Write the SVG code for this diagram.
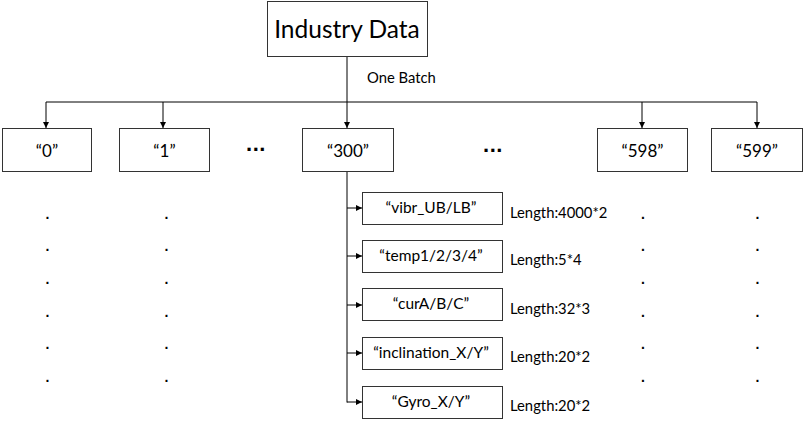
<svg xmlns="http://www.w3.org/2000/svg" width="804" height="426" viewBox="0 0 804 426">
<defs>
<marker id="ah" viewBox="0 0 6 6" refX="6" refY="3" markerWidth="6" markerHeight="6" markerUnits="userSpaceOnUse" orient="auto">
<path d="M0,0 L6,3 L0,6 z" fill="#000"/>
</marker>
<style>
.box{fill:#fff;stroke:#333;stroke-width:1}
.ln{fill:none;stroke:#000;stroke-width:1}
.t{font-family:Lato,"Liberation Sans",sans-serif;fill:#000;text-anchor:middle}
.big{font-size:24.5px}
.mid{font-size:17px}
.sm{font-size:15.5px}
.len{font-family:Lato,"Liberation Sans",sans-serif;font-size:14.8px;fill:#000}
.dot{font-family:"Liberation Sans",sans-serif;font-size:14px;font-weight:bold;fill:#000;text-anchor:middle}
.ell{font-family:"Liberation Sans",sans-serif;font-size:22px;font-weight:bold;fill:#000;text-anchor:middle;letter-spacing:0.5px}
</style>
</defs>
<g id="connectors">
<line class="ln" x1="347" y1="57" x2="347" y2="102" stroke-width="2"/>
<line class="ln" x1="347" y1="102" x2="347" y2="128" marker-end="url(#ah)"/>
<line class="ln" x1="46" y1="102" x2="757" y2="102"/>
<line class="ln" x1="46" y1="102" x2="46" y2="128" marker-end="url(#ah)"/>
<line class="ln" x1="163" y1="102" x2="163" y2="128" marker-end="url(#ah)"/>
<line class="ln" x1="642" y1="102" x2="642" y2="128" marker-end="url(#ah)"/>
<line class="ln" x1="757" y1="102" x2="757" y2="128" marker-end="url(#ah)"/>
<line class="ln" x1="347" y1="172" x2="347" y2="402.5" stroke-width="2"/>
<line class="ln" x1="347" y1="208" x2="362" y2="208" marker-end="url(#ah)"/>
<line class="ln" x1="347" y1="256" x2="362" y2="256" marker-end="url(#ah)"/>
<line class="ln" x1="347" y1="305" x2="362" y2="305" marker-end="url(#ah)"/>
<line class="ln" x1="347" y1="353" x2="362" y2="353" marker-end="url(#ah)"/>
<line class="ln" x1="347" y1="402" x2="362" y2="402" marker-end="url(#ah)"/>
<text class="len" x="367" y="83" font-size="12">One Batch</text>
</g>
<g id="n-root">
<rect class="box" x="267.5" y="1.5" width="160" height="55"/>
<text class="t big" x="347" y="38">Industry Data</text>
</g>
<g id="n-0">
<rect class="box" x="2.5" y="128.5" width="89" height="43"/>
<text class="t mid" x="47" y="157">“0”</text>
</g>
<g id="n-1">
<rect class="box" x="119.5" y="128.5" width="90" height="43"/>
<text class="t mid" x="164.5" y="157">“1”</text>
</g>
<g id="n-300">
<rect class="box" x="302.5" y="128.5" width="91" height="43"/>
<text class="t mid" x="348" y="157">“300”</text>
</g>
<g id="n-598">
<rect class="box" x="597.5" y="128.5" width="90" height="43"/>
<text class="t mid" x="642.5" y="157">“598”</text>
</g>
<g id="n-599">
<rect class="box" x="711.5" y="128.5" width="91" height="43"/>
<text class="t mid" x="757" y="157">“599”</text>
</g>
<g id="ellipses">
<text class="ell" x="256" y="151">...</text>
<text class="ell" x="493" y="152">...</text>
</g>
<g id="n-vibr">
<rect class="box" x="362.5" y="192.5" width="140" height="32"/>
<text class="t sm" x="431" y="213">“vibr_UB/LB”</text>
<text class="len" x="510" y="218">Length:4000*2</text>
</g>
<g id="n-temp">
<rect class="box" x="362.5" y="240.5" width="140" height="32"/>
<text class="t sm" x="431" y="261">“temp1/2/3/4”</text>
<text class="len" x="510" y="265">Length:5*4</text>
</g>
<g id="n-cur">
<rect class="box" x="362.5" y="288.5" width="140" height="32"/>
<text class="t sm" x="431" y="309">“curA/B/C”</text>
<text class="len" x="510" y="314">Length:32*3</text>
</g>
<g id="n-incl">
<rect class="box" x="362.5" y="337.5" width="140" height="32"/>
<text class="t sm" x="431" y="358">“inclination_X/Y”</text>
<text class="len" x="510" y="362">Length:20*2</text>
</g>
<g id="n-gyro">
<rect class="box" x="362.5" y="386.5" width="140" height="32"/>
<text class="t sm" x="431" y="407">“Gyro_X/Y”</text>
<text class="len" x="510" y="411">Length:20*2</text>
</g>
<g id="dots">
<text class="dot" x="47.5" y="219">.</text><text class="dot" x="47.5" y="251">.</text><text class="dot" x="47.5" y="284">.</text><text class="dot" x="47.5" y="317">.</text><text class="dot" x="47.5" y="349">.</text><text class="dot" x="47.5" y="382">.</text>
<text class="dot" x="166.5" y="219">.</text><text class="dot" x="166.5" y="251">.</text><text class="dot" x="166.5" y="284">.</text><text class="dot" x="166.5" y="317">.</text><text class="dot" x="166.5" y="349">.</text><text class="dot" x="166.5" y="382">.</text>
<text class="dot" x="643" y="219">.</text><text class="dot" x="643" y="251">.</text><text class="dot" x="643" y="284">.</text><text class="dot" x="643" y="317">.</text><text class="dot" x="643" y="349">.</text><text class="dot" x="643" y="382">.</text>
<text class="dot" x="757.5" y="219">.</text><text class="dot" x="757.5" y="251">.</text><text class="dot" x="757.5" y="284">.</text><text class="dot" x="757.5" y="317">.</text><text class="dot" x="757.5" y="349">.</text><text class="dot" x="757.5" y="382">.</text>
</g>
</svg>
